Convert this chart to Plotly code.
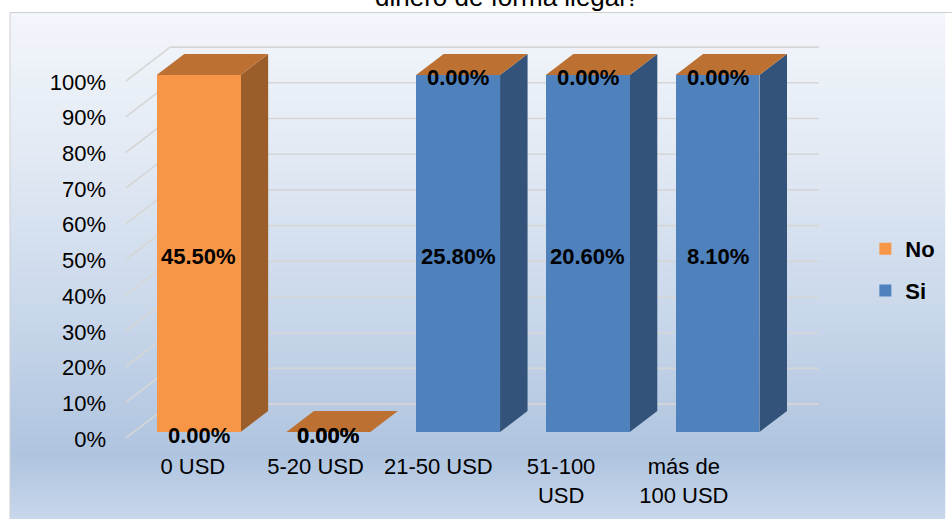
import plotly.graph_objects as go

# ---- data -------------------------------------------------------------
categories = ["0 USD", "5-20 USD", "21-50 USD", "51-100<br>USD", "más de<br>100 USD"]
si_values = [0.0, 0.0, 25.8, 20.6, 8.1]      # bottom of each stack
no_values = [45.5, 0.0, 0.0, 0.0, 0.0]       # top of each stack
y_ticks = [0, 10, 20, 30, 40, 50, 60, 70, 80, 90, 100]
y_tick_text = [f"{v}%" for v in y_ticks]
title_line = "dinero de forma ilegal?"

# ---- styling ------------------------------------------------------------
FONT = "Liberation Sans, Arial, sans-serif"
series = [
    # name, values, front colour, side colour, top colour, legend rank
    ("Si", si_values, "#4F81BD", "#33537B", "#3E6796", 2),
    ("No", no_values, "#F79646", "#9B5D2A", "#BC7133", 1),
]

W, H = 952, 519
M = dict(l=115, r=122, t=40, b=74)
plot_w = W - M["l"] - M["r"]
plot_h = H - M["t"] - M["b"]
x_range = [-0.645, 4.79]
y_range = [-3.64, 109.8]
bargap = 0.353

px_x = plot_w / (x_range[1] - x_range[0])   # pixels per category
px_y = plot_h / (y_range[1] - y_range[0])   # pixels per percent

# depth of the 3-D box (front axis plane -> back wall), in pixels
DEPTH_PX = (45.0, 34.0)
T_FRONT, T_BACK, T_WALL = 0.18, 0.80, 1.0


def depth(t):
    """Offset (data units) of depth t relative to the bar front plane."""
    return ((t - T_FRONT) * DEPTH_PX[0] / px_x, (t - T_FRONT) * DEPTH_PX[1] / px_y)


def poly(points):
    return "M " + " L ".join(f"{x:.4f},{y:.4f}" for x, y in points) + " Z"


n = len(categories)
idx = list(range(n))
totals = [sum(s[1][i] for s in series) for i in idx]
shares = [[(s[1][i] / totals[i] * 100.0) if totals[i] else 0.0 for i in idx] for s in series]

fig = go.Figure()

# ---- bars (front faces) ---------------------------------------------------
for (name, vals, front, side, top, rank) in series:
    fig.add_trace(go.Bar(
        x=idx, y=vals, name=name, marker=dict(color=front, line=dict(width=0)),
        legendgroup=name, legendrank=rank, hoverinfo="skip",
    ))

shapes = []

# ---- chart-area gradient background -------------------------------------
stops = [(12, (0xF3, 0xF6, 0xFB)), (150, (0xE3, 0xEA, 0xF4)), (300, (0xCB, 0xD9, 0xEB)),
         (455, (0xAF, 0xC4, 0xDF)), (519, (0xC8, 0xD7, 0xEB))]


def grad(py):
    for (a, ca), (b, cb) in zip(stops, stops[1:]):
        if a <= py <= b:
            f = (py - a) / (b - a)
            return "rgb(%d,%d,%d)" % tuple(round(ca[k] + (cb[k] - ca[k]) * f) for k in range(3))
    return "rgb(%d,%d,%d)" % stops[-1][1]


def to_px(x):
    return (x - M["l"]) / plot_w


def to_py(y):
    return (H - M["b"] - y) / plot_h


band = 4
py = 12
while py < H:
    shapes.append(dict(type="rect", xref="paper", yref="paper", layer="below",
                       x0=to_px(8.5), x1=to_px(W + 5), y0=to_py(py), y1=to_py(min(py + band + 1, H + 2)),
                       fillcolor=grad(py + band / 2), line=dict(width=0)))
    py += band
shapes.append(dict(type="rect", xref="paper", yref="paper", layer="below",
                   x0=to_px(8.5), x1=to_px(W + 20), y0=to_py(12.5), y1=to_py(H + 20),
                   fillcolor="rgba(0,0,0,0)", line=dict(color="#D0D0D0", width=1)))

# ---- back wall and side wall gridlines ----------------------------------
grid_style = dict(color="#D6D6D6", width=1.6)
wdx, wdy = depth(T_WALL)
fdx, fdy = depth(0.0)
left, right = -0.5, n - 0.5
for v in y_ticks:
    shapes.append(dict(type="line", xref="x", yref="y", layer="between",
                       x0=left + wdx, x1=right + wdx, y0=v + wdy, y1=v + wdy, line=grid_style))
    shapes.append(dict(type="line", xref="x", yref="y", layer="between",
                       x0=left + fdx, x1=left + wdx, y0=v + fdy, y1=v + wdy, line=grid_style))

# ---- 3-D side and top faces ----------------------------------------------
bw = 1 - bargap
bdx, bdy = depth(T_BACK)
for i in idx:
    xl, xr = i - bw / 2, i + bw / 2
    base = 0.0
    for s, (name, vals, front, side, top, rank) in enumerate(series):
        h = shares[s][i]
        if h > 0:
            shapes.append(dict(type="path", xref="x", yref="y", layer="between",
                               path=poly([(xr, base), (xr + bdx, base + bdy),
                                          (xr + bdx, base + h + bdy), (xr, base + h)]),
                               fillcolor=side, line=dict(width=0)))
        base += h
    top_color = series[-1][4]
    shapes.append(dict(type="path", xref="x", yref="y", layer="between",
                       path=poly([(xl, base), (xr, base), (xr + bdx, base + bdy), (xl + bdx, base + bdy)]),
                       fillcolor=top_color, line=dict(width=0)))

# ---- data labels (centre of every stacked segment) -----------------------
annotations = []
for i in idx:
    base = 0.0
    for s, (name, vals, *_rest) in enumerate(series):
        h = shares[s][i]
        annotations.append(dict(
            x=i, y=base + h / 2, xref="x", yref="y", text=f"{vals[i]:.2f}%",
            showarrow=False, xanchor="center", yanchor="middle", yshift=-3,
            font=dict(family=FONT, size=22, color="#000000", weight="bold"),
        ))
        base += h

annotations.append(dict(text=title_line, xref="paper", yref="paper",
                        x=to_px(513.5), y=to_py(-2.5), xanchor="center", yanchor="middle",
                        showarrow=False, font=dict(family=FONT, size=26, color="#000000")))

# ---- category labels (front edge of floor) -------------------------------
fig.add_trace(go.Scatter(x=idx, y=[0] * n, xaxis="x2", mode="markers",
                         marker=dict(opacity=0), showlegend=False, hoverinfo="skip"))

fig.update_layout(
    width=W, height=H, margin=dict(M, pad=0),
    barmode="stack", barnorm="percent", bargap=bargap,
    paper_bgcolor="#FFFFFF", plot_bgcolor="rgba(0,0,0,0)",
    font=dict(family=FONT, size=22, color="#000000"),
    shapes=shapes, annotations=annotations,
    showlegend=True,
    legend=dict(x=to_px(876), y=to_py(270), xanchor="left", yanchor="middle",
                traceorder="grouped", tracegroupgap=10,
                font=dict(family=FONT, size=22, color="#000000", weight="bold"),
                bgcolor="rgba(0,0,0,0)"),
    xaxis=dict(range=x_range, showgrid=False, zeroline=False, showline=False,
               showticklabels=False, ticks=""),
    xaxis2=dict(range=[-0.634, 5.109], overlaying="x", side="bottom",
                tickmode="array", tickvals=idx, ticktext=categories,
                showgrid=False, zeroline=False, showline=False, ticks="",
                ticklabelstandoff=6, tickfont=dict(family=FONT, size=22, color="#000000")),
    yaxis=dict(range=y_range, tickmode="array", tickvals=y_ticks, ticktext=y_tick_text,
               showgrid=False, zeroline=False, showline=False, ticks="",
               ticklabelshift=7, ticklabelstandoff=8,
               tickfont=dict(family=FONT, size=22, color="#000000")),
)

fig.write_html("out.html")
